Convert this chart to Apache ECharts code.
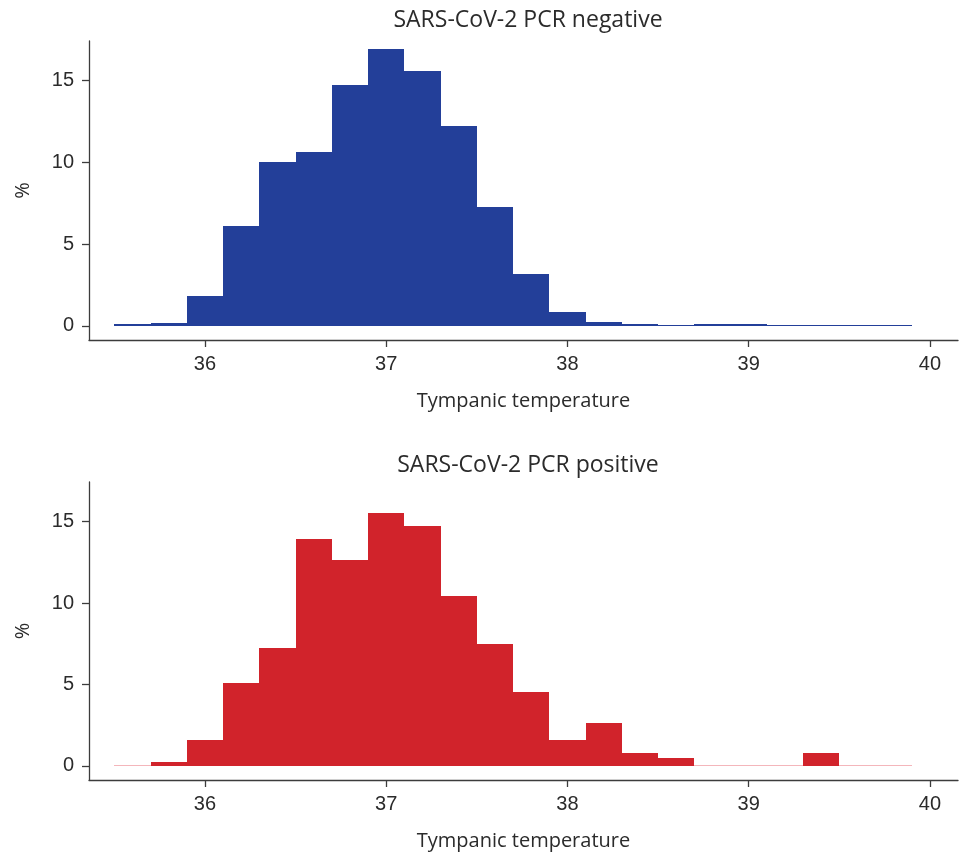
<!DOCTYPE html>
<html>
<head>
<meta charset="utf-8">
<script src="https://cdn.jsdelivr.net/npm/echarts@6/dist/echarts.min.js"></script>
<style>html,body{margin:0;padding:0;background:#fff}#c{width:960px;height:852px}</style>
</head>
<body>
<div id="c"></div>
<script>
// Histogram bins (lower edges, °C) and bin width
const binLower = [35.5, 35.7, 35.9, 36.1, 36.3, 36.5, 36.7, 36.9, 37.1, 37.3, 37.5,
                  37.7, 37.9, 38.1, 38.3, 38.5, 38.7, 38.9, 39.1, 39.3, 39.5, 39.7];
const binWidth = 0.2;
// Percent of patients per bin
const negativePct = [0.12, 0.18, 1.84, 6.12, 10.02, 10.65, 14.73, 16.94, 15.59, 12.22, 7.27,
                     3.16, 0.84, 0.22, 0.12, 0.06, 0.12, 0.12, 0.06, 0.06, 0.06, 0.06];
const positivePct = [0, 0.26, 1.61, 5.09, 7.25, 13.96, 12.64, 15.55, 14.75, 10.47, 7.48,
                     4.54, 1.61, 2.65, 0.82, 0.51, 0, 0, 0, 0.82, 0, 0];
const xTicks = [36, 37, 38, 39, 40];
const yTicks = [0, 5, 10, 15];
const titles = ['SARS-CoV-2 PCR negative', 'SARS-CoV-2 PCR positive'];
const xTitle = 'Tympanic temperature';
const yTitle = '%';

const colors = ['#233f99', '#d1232b'];
const zeroColors = ['#aab4d8', '#f4b6bb'];

const chart = echarts.init(document.getElementById('c'), null, {renderer: 'canvas'});

function makeRender(idx) {
  return function (params, api) {
    const lo = api.value(0), hi = api.value(1), v = api.value(2);
    const p0 = api.coord([lo, 0]);
    const p1 = api.coord([hi, v]);
    const xa = Math.round(p0[0]), xb = Math.round(p1[0]);
    const yb = Math.round(p0[1]);
    let h = Math.round(p0[1] - p1[1]);
    let fill = colors[idx];
    if (v === 0) { fill = zeroColors[idx]; h = 1; }
    else if (h < 1) { h = 1; }
    return {
      type: 'rect',
      shape: {x: xa, y: yb - h, width: xb - xa, height: h},
      style: {fill: fill}
    };
  };
}

const axisColor = '#3c3c3c';
const labelFont = {fontFamily: 'Liberation Sans', fontSize: 20, color: '#2b2b2b'};
const nameFont = {fontFamily: 'Open Sans', fontSize: 20, color: '#2b2b2b'};
const titleFont = {fontFamily: 'Open Sans', fontSize: 23, fontWeight: 'normal', color: '#2b2b2b'};

const grids = [
  {left: 89, right: 2, top: 41, height: 299},
  {left: 89, right: 2, top: 482, height: 298}
];

function xAxis(i) {
  return {
    type: 'value', gridIndex: i, min: 35.36, max: 40.155,
    name: xTitle, nameLocation: 'middle', nameGap: 51, nameTextStyle: nameFont,
    axisLine: {onZero: false, lineStyle: {color: axisColor, width: 1.3}},
    axisTick: {length: 7, lineStyle: {color: axisColor, width: 1.3}, customValues: xTicks},
    axisLabel: Object.assign({margin: 14, customValues: xTicks}, labelFont),
    splitLine: {show: false}
  };
}
function yAxis(i) {
  return {
    type: 'value', gridIndex: i, min: -0.87, max: 17.43,
    name: yTitle, nameLocation: 'middle', nameGap: 56, nameRotate: 90, nameTextStyle: nameFont,
    axisLine: {show: true, onZero: false, lineStyle: {color: axisColor, width: 1.3}},
    axisTick: {show: true, length: 7, lineStyle: {color: axisColor, width: 1.3}, customValues: yTicks},
    axisLabel: Object.assign({margin: 15, customValues: yTicks}, labelFont),
    splitLine: {show: false}
  };
}

function seriesData(vals) {
  return binLower.map((lo, i) => [lo, +(lo + binWidth).toFixed(1), vals[i]]);
}

chart.setOption({
  animation: false,
  backgroundColor: '#fff',
  title: [
    {text: titles[0], left: 523, top: 4, textAlign: 'center', textStyle: titleFont},
    {text: titles[1], left: 523, top: 449, textAlign: 'center', textStyle: titleFont}
  ],
  grid: grids,
  xAxis: [xAxis(0), xAxis(1)],
  yAxis: [yAxis(0), yAxis(1)],
  series: [
    {type: 'custom', xAxisIndex: 0, yAxisIndex: 0, renderItem: makeRender(0),
     encode: {x: [0, 1], y: 2}, data: seriesData(negativePct)},
    {type: 'custom', xAxisIndex: 1, yAxisIndex: 1, renderItem: makeRender(1),
     encode: {x: [0, 1], y: 2}, data: seriesData(positivePct)}
  ]
});
</script>
</body>
</html>
